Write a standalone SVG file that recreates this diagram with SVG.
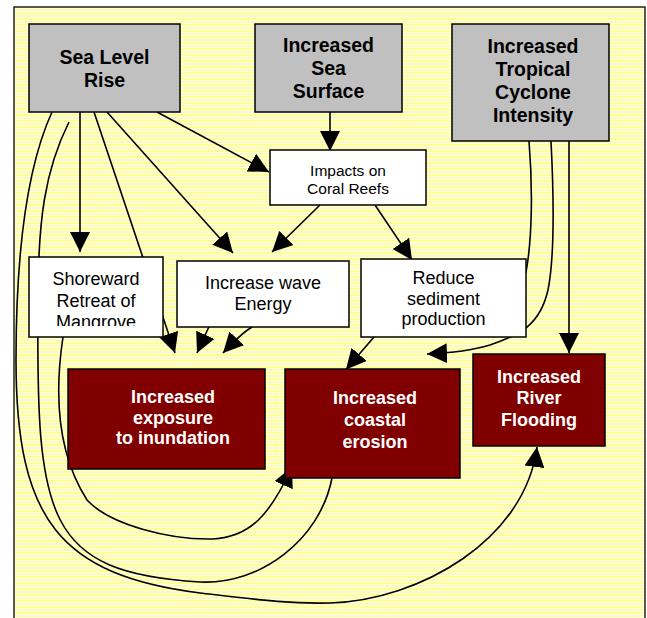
<svg xmlns="http://www.w3.org/2000/svg" width="647" height="618" viewBox="0 0 647 618">
<defs>
<pattern id="stripes" x="0" y="0" width="4" height="3" patternUnits="userSpaceOnUse">
<rect width="4" height="3" fill="#FFFF99"/>
<rect y="2" width="4" height="1" fill="#FFFFFF"/>
</pattern>
<marker id="arr" viewBox="0 0 20 20" refX="20" refY="10" markerWidth="20" markerHeight="20" markerUnits="userSpaceOnUse" orient="auto">
<path d="M0,0 L20,10 L0,20 Z" fill="#000"/>
</marker>
<clipPath id="clipMangrove"><rect x="29" y="257" width="134" height="69"/></clipPath>
</defs>
<style>
.conn{fill:none;stroke:#000;stroke-width:1.6}
.arrow{marker-end:url(#arr)}
.gray{fill:#C0C0C0;stroke:#000;stroke-width:1.5}
.white{fill:#FFFFFF;stroke:#000;stroke-width:1.5}
.red{fill:#800000;stroke:#000;stroke-width:1.5}
.tg{font-family:"Liberation Sans",Arial,sans-serif;font-weight:bold;font-size:19.5px;fill:#000;text-anchor:middle}
.tw{font-family:"Liberation Sans",Arial,sans-serif;font-size:18px;fill:#000;text-anchor:middle}
.ts{font-family:"Liberation Sans",Arial,sans-serif;font-size:15.5px;fill:#000;text-anchor:middle}
.tr{font-family:"Liberation Sans",Arial,sans-serif;font-weight:bold;font-size:18px;fill:#FFFFFF;text-anchor:middle}
</style>
<rect width="647" height="618" fill="#FFFFFF"/>
<rect id="frame" x="14" y="7" width="631" height="620" fill="url(#stripes)" stroke="#222" stroke-width="1.5"/>

<g id="connectors">
<path class="conn arrow" d="M80,112 L80,252"/>
<path class="conn arrow" d="M94,112 L175,353"/>
<path class="conn arrow" d="M107,112 L233,253"/>
<path class="conn arrow" d="M157,112 L269,172"/>
<path class="conn arrow" d="M330,112 L330,151"/>
<path class="conn arrow" d="M320,205 L272,252"/>
<path class="conn arrow" d="M375,205 L412,260"/>
<path class="conn arrow" d="M212,320 L197,353"/>
<path class="conn arrow" d="M252,327 C245,331 238,337 223,353"/>
<path class="conn arrow" d="M374,337 L346,369.5"/>
<path class="conn arrow" d="M569,141 L569,353"/>
<path class="conn" d="M529,141 C533,190 532,240 526,272 L510,300"/>
<path class="conn arrow" d="M551,141 C554,200 554,260 548,290 C540,325 520,335 490,345 C470,351 450,353 427,354"/>
<path class="conn arrow" d="M52,112 C30,160 16,240 16,360 C16,520 60,575 200,593 C260,600 290,604 330,603 C420,600 525,540 537,447"/>
<path class="conn" d="M69,122 C45,170 38,220 38,300 C36,520 45,572 200,582 C260,585 320,540 332,478"/>
<path class="conn arrow" d="M63,337 C55,390 55,450 87,500 C110,525 170,540 213,539 C250,537 270,515 292,467"/>
</g>

<g id="n-slr">
<rect class="gray" x="29" y="24" width="151" height="88"/>
<text class="tg" x="104.5" y="64.3">Sea Level</text>
<text class="tg" x="104.5" y="86.7">Rise</text>
</g>
<g id="n-sst">
<rect class="gray" x="255" y="24" width="147" height="88"/>
<text class="tg" x="328.5" y="52.3">Increased</text>
<text class="tg" x="328.5" y="75">Sea</text>
<text class="tg" x="328.5" y="97.7">Surface</text>
</g>
<g id="n-tc">
<rect class="gray" x="452" y="24" width="157" height="117"/>
<text class="tg" x="533" y="52.7">Increased</text>
<text class="tg" x="533" y="75.5">Tropical</text>
<text class="tg" x="533" y="98.5">Cyclone</text>
<text class="tg" x="533" y="121.5">Intensity</text>
</g>
<g id="n-coral">
<rect class="white" x="270" y="150" width="156" height="55"/>
<text class="ts" x="348" y="176">Impacts on</text>
<text class="ts" x="348" y="194">Coral Reefs</text>
</g>
<g id="n-mangrove">
<rect class="white" x="29" y="257" width="134" height="80"/>
<g clip-path="url(#clipMangrove)">
<text class="tw" x="96" y="285.3">Shoreward</text>
<text class="tw" x="96" y="306.7">Retreat of</text>
<text class="tw" x="96" y="327.7">Mangrove</text>
</g>
</g>
<g id="n-wave">
<rect class="white" x="177" y="261" width="172" height="66"/>
<text class="tw" x="263" y="289.3">Increase wave</text>
<text class="tw" x="263" y="310">Energy</text>
</g>
<g id="n-sediment">
<rect class="white" x="361" y="259" width="165" height="78"/>
<text class="tw" x="443.5" y="284">Reduce</text>
<text class="tw" x="443.5" y="305">sediment</text>
<text class="tw" x="443.5" y="325">production</text>
</g>
<g id="n-inundation">
<rect class="red" x="68" y="369" width="197" height="100"/>
<text class="tr" x="173" y="402.7">Increased</text>
<text class="tr" x="173" y="424">exposure</text>
<text class="tr" x="173" y="444.3">to inundation</text>
</g>
<g id="n-erosion">
<rect class="red" x="285" y="369" width="175" height="109"/>
<text class="tr" x="375" y="404.3">Increased</text>
<text class="tr" x="375" y="426">coastal</text>
<text class="tr" x="375" y="447.7">erosion</text>
</g>
<g id="n-flooding">
<rect class="red" x="473" y="354" width="132" height="92"/>
<text class="tr" x="539" y="382.7">Increased</text>
<text class="tr" x="539" y="404">River</text>
<text class="tr" x="539" y="425.7">Flooding</text>
</g>
</svg>
